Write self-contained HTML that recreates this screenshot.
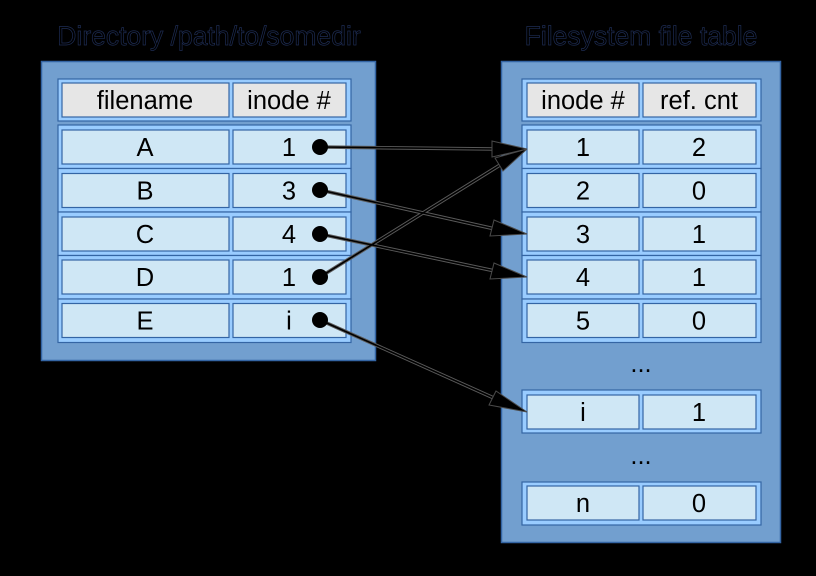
<!DOCTYPE html>
<html><head><meta charset="utf-8"><style>
html,body{margin:0;padding:0;background:#000;}
svg{display:block}
text{font-family:"Liberation Sans",sans-serif;}
</style></head><body>
<svg width="816" height="576" viewBox="0 0 816 576" xmlns="http://www.w3.org/2000/svg">
<rect width="816" height="576" fill="#000"/>
<text x="209" y="45" font-size="26.5" text-anchor="middle" fill="#000" stroke="#1e2d55" stroke-width="0.7">Directory /path/to/somedir</text>
<text x="641" y="45" font-size="26.5" text-anchor="middle" fill="#000" stroke="#1e2d55" stroke-width="0.7">Filesystem file table</text>

<!-- left panel -->
<rect x="41.5" y="61.5" width="334" height="299" fill="#729fcf" stroke="#3465a4" stroke-width="1.5"/>
<g stroke="#3465a4" stroke-width="1.2">
<rect x="58" y="79" width="293" height="42" fill="#99ccff"/>
<rect x="58" y="125" width="293" height="43.5" fill="#99ccff"/>
<rect x="58" y="168.5" width="293" height="43.5" fill="#99ccff"/>
<rect x="58" y="212" width="293" height="43.5" fill="#99ccff"/>
<rect x="58" y="255.5" width="293" height="43.5" fill="#99ccff"/>
<rect x="58" y="299" width="293" height="43.5" fill="#99ccff"/>
<rect x="62" y="83" width="167" height="34" fill="#e6e6e6"/>
<rect x="233" y="83" width="113" height="34" fill="#e6e6e6"/>
<rect x="62" y="130" width="167" height="34" fill="#cfe7f5"/><rect x="233" y="130" width="113" height="34" fill="#cfe7f5"/>
<rect x="62" y="173.5" width="167" height="34" fill="#cfe7f5"/><rect x="233" y="173.5" width="113" height="34" fill="#cfe7f5"/>
<rect x="62" y="217" width="167" height="34" fill="#cfe7f5"/><rect x="233" y="217" width="113" height="34" fill="#cfe7f5"/>
<rect x="62" y="260" width="167" height="34" fill="#cfe7f5"/><rect x="233" y="260" width="113" height="34" fill="#cfe7f5"/>
<rect x="62" y="303.5" width="167" height="34" fill="#cfe7f5"/><rect x="233" y="303.5" width="113" height="34" fill="#cfe7f5"/>
</g>
<g font-size="25.5" fill="#000" text-anchor="middle">
<text x="145" y="109">filename</text><text x="289" y="109">inode #</text>
<text x="145" y="156">A</text><text x="145" y="199.5">B</text><text x="145" y="243">C</text><text x="145" y="286">D</text><text x="145" y="329.5">E</text>
<text x="289" y="156">1</text><text x="289" y="199.5">3</text><text x="289" y="243">4</text><text x="289" y="286">1</text><text x="289" y="329.5">i</text>
</g>

<!-- right panel -->
<rect x="501.5" y="61.5" width="279" height="481" fill="#729fcf" stroke="#3465a4" stroke-width="1.5"/>
<g stroke="#3465a4" stroke-width="1.2">
<rect x="522" y="79" width="239" height="42" fill="#99ccff"/>
<rect x="522" y="125" width="239" height="43.5" fill="#99ccff"/>
<rect x="522" y="168.5" width="239" height="43.5" fill="#99ccff"/>
<rect x="522" y="212" width="239" height="43.5" fill="#99ccff"/>
<rect x="522" y="255.5" width="239" height="43.5" fill="#99ccff"/>
<rect x="522" y="299" width="239" height="43.5" fill="#99ccff"/>
<rect x="522" y="390" width="239" height="43" fill="#99ccff"/>
<rect x="522" y="482" width="239" height="43" fill="#99ccff"/>
<rect x="527" y="83" width="112" height="34" fill="#e6e6e6"/><rect x="643" y="83" width="113" height="34" fill="#e6e6e6"/>
<rect x="527" y="130" width="112" height="34" fill="#cfe7f5"/><rect x="643" y="130" width="113" height="34" fill="#cfe7f5"/>
<rect x="527" y="173.5" width="112" height="34" fill="#cfe7f5"/><rect x="643" y="173.5" width="113" height="34" fill="#cfe7f5"/>
<rect x="527" y="217" width="112" height="34" fill="#cfe7f5"/><rect x="643" y="217" width="113" height="34" fill="#cfe7f5"/>
<rect x="527" y="260" width="112" height="34" fill="#cfe7f5"/><rect x="643" y="260" width="113" height="34" fill="#cfe7f5"/>
<rect x="527" y="303.5" width="112" height="34" fill="#cfe7f5"/><rect x="643" y="303.5" width="113" height="34" fill="#cfe7f5"/>
<rect x="527" y="395" width="112" height="34" fill="#cfe7f5"/><rect x="643" y="395" width="113" height="34" fill="#cfe7f5"/>
<rect x="527" y="486" width="112" height="34" fill="#cfe7f5"/><rect x="643" y="486" width="113" height="34" fill="#cfe7f5"/>
</g>
<g font-size="25.5" fill="#000" text-anchor="middle">
<text x="583" y="156">1</text><text x="699" y="156">2</text>
<text x="583" y="199.5">2</text><text x="699" y="199.5">0</text>
<text x="583" y="243">3</text><text x="699" y="243">1</text>
<text x="583" y="286">4</text><text x="699" y="286">1</text>
<text x="583" y="329.5">5</text><text x="699" y="329.5">0</text>
<text x="641" y="372">...</text>
<text x="583" y="421">i</text><text x="699" y="421">1</text>
<text x="641" y="464">...</text>
<text x="583" y="512">n</text><text x="699" y="512">0</text>
<text x="583" y="109">inode #</text><text x="699" y="109">ref. cnt</text>
</g>

<!-- connectors: gray halo then black core -->
<g stroke="#5a5a5a" stroke-width="3.5" fill="none">
<line x1="320" y1="147" x2="495" y2="149"/>
<line x1="320" y1="190" x2="495" y2="229"/>
<line x1="320" y1="234" x2="495" y2="271"/>
<line x1="320" y1="277" x2="500" y2="165"/>
<line x1="320" y1="320" x2="496" y2="399"/>
</g>
<g stroke="#000" stroke-width="1.6" fill="none">
<line x1="320" y1="147" x2="495" y2="149"/>
<line x1="320" y1="190" x2="495" y2="229"/>
<line x1="320" y1="234" x2="495" y2="271"/>
<line x1="320" y1="277" x2="500" y2="165"/>
<line x1="320" y1="320" x2="496" y2="399"/>
</g>
<g fill="#000" stroke="#4a4a4a" stroke-width="1">
<polygon points="527,149 492,141 492,157"/>
<polygon points="527,234 494,220 490,236"/>
<polygon points="527,277 494,263 490,279"/>
<polygon points="527,149 495,158 503,171"/>
<polygon points="527,412 496,391 489,405"/>
</g>
<g fill="#000">
<circle cx="320" cy="147" r="8"/><circle cx="320" cy="190" r="8"/><circle cx="320" cy="234" r="8"/><circle cx="320" cy="277" r="8"/><circle cx="320" cy="320" r="8"/>
</g>
</svg>
</body></html>
